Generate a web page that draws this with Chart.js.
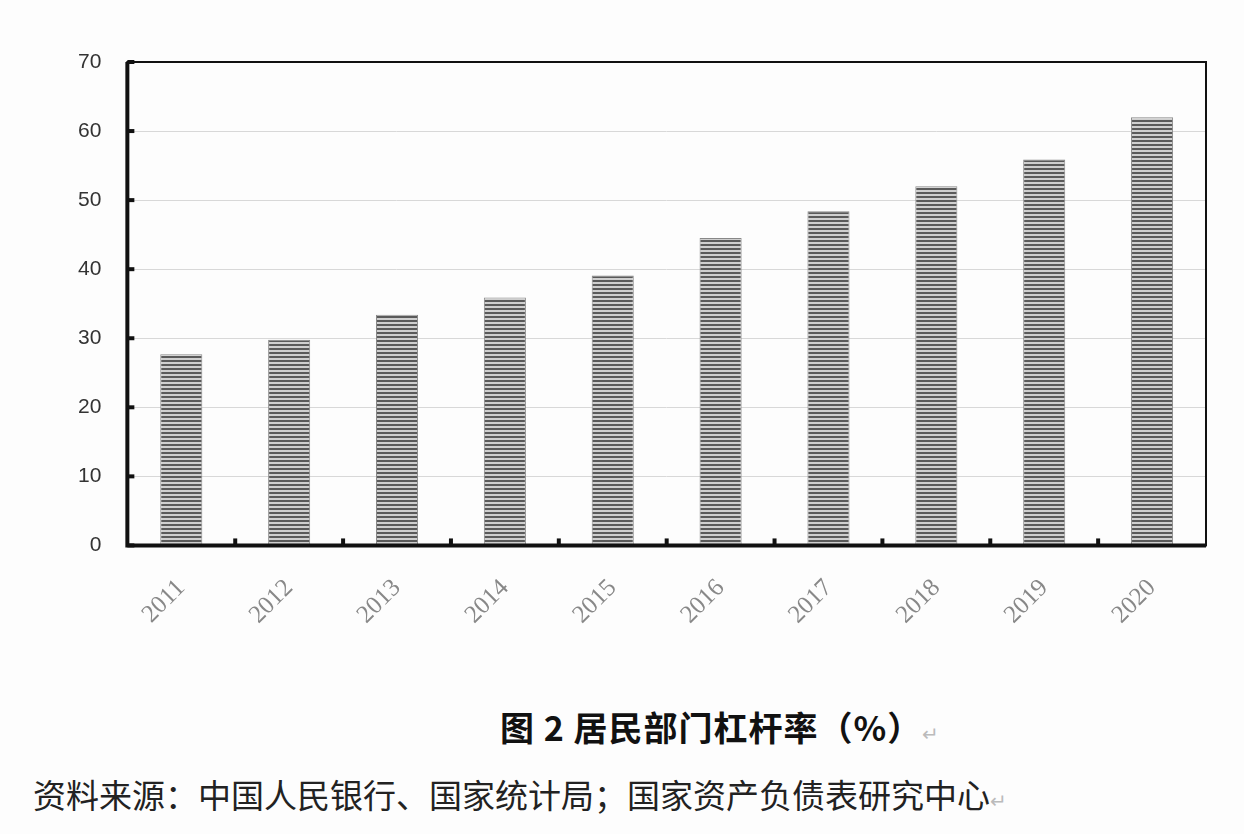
<!DOCTYPE html>
<html><head><meta charset="utf-8">
<script src="https://cdn.jsdelivr.net/npm/chart.js@4"></script>
<style>
body{margin:0;background:#fdfdfd;width:1244px;height:834px;overflow:hidden;position:relative;font-family:"Noto Sans CJK SC",sans-serif}
#wrap{position:absolute;left:0;top:0;width:1244px;height:690px}
#title{position:absolute;left:500px;top:702px;font-size:34px;font-weight:bold;color:#111;font-family:"Noto Sans CJK SC",serif;letter-spacing:1px}
#src{position:absolute;left:33px;top:770px;font-size:33px;color:#222}
</style></head><body>
<div id="wrap"><canvas id="c"></canvas></div>
<div id="title">图 2 居民部门杠杆率（%）<span style="color:#bbb;font-weight:normal;font-size:20px">↵</span></div>
<div id="src">资料来源：中国人民银行、国家统计局；国家资产负债表研究中心<span style="color:#bbb;font-size:20px">↵</span></div>
<script>
const years = ['2011','2012','2013','2014','2015','2016','2017','2018','2019','2020'];
const leverage = [27.7, 29.8, 33.4, 35.9, 39.1, 44.5, 48.4, 52.0, 55.9, 62.0];
const yTicks = [0, 10, 20, 30, 40, 50, 60, 70];

// horizontal stripe fill like the printed figure
const pc = document.createElement('canvas');
pc.width = 4; pc.height = 4;
const p = pc.getContext('2d');
p.fillStyle = '#5a5a5a'; p.fillRect(0, 0, 4, 2);
p.fillStyle = '#cfcfcf'; p.fillRect(0, 2, 4, 2);
const stripes = p.createPattern(pc, 'repeat');

const frame = {
  id: 'frame',
  afterDraw(chart) {
    const { ctx, chartArea: a, scales } = chart;
    ctx.save();
    ctx.strokeStyle = '#111';
    ctx.lineWidth = 2;
    ctx.strokeRect(a.left, a.top, a.right - a.left, a.bottom - a.top);
    ctx.lineWidth = 4;
    ctx.beginPath();
    ctx.moveTo(a.left, a.top); ctx.lineTo(a.left, a.bottom); ctx.lineTo(a.right, a.bottom);
    ctx.stroke();
    yTicks.forEach(v => {
      const y = scales.y.getPixelForValue(v);
      ctx.beginPath(); ctx.moveTo(a.left, y); ctx.lineTo(a.left + 7, y); ctx.stroke();
    });
    const step = (a.right - a.left) / years.length;
    for (let i = 1; i < years.length; i++) {
      const x = a.left + step * i;
      ctx.beginPath(); ctx.moveTo(x, a.bottom); ctx.lineTo(x, a.bottom - 7); ctx.stroke();
    }
    ctx.restore();
  }
};

new Chart(document.getElementById('c'), {
  type: 'bar',
  data: { labels: years, datasets: [{ data: leverage, backgroundColor: stripes, borderColor: '#888', borderWidth: 1, barPercentage: 0.39, categoryPercentage: 1 }] },
  options: {
    responsive: true, maintainAspectRatio: false, animation: false,
    layout: { padding: { left: 52, right: 38, top: 62, bottom: 40 } },
    plugins: { legend: { display: false }, tooltip: { enabled: false } },
    scales: {
      x: {
        grid: { display: false }, border: { display: false },
        ticks: { color: '#888', font: { family: 'Liberation Serif', size: 25 }, maxRotation: 45, minRotation: 45, padding: 20 }
      },
      y: {
        min: 0, max: 70,
        afterBuildTicks: s => { s.ticks = yTicks.map(v => ({ value: v })); },
        grid: { color: '#d8d8d8', lineWidth: 1, drawTicks: false }, border: { display: false },
        ticks: { color: '#333', font: { family: 'Liberation Sans', size: 21 }, padding: 26 }
      }
    }
  },
  plugins: [frame]
});
</script>
</body></html>
